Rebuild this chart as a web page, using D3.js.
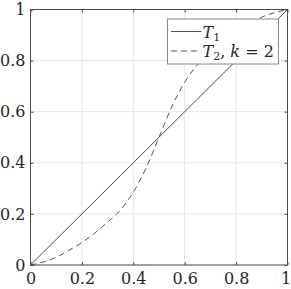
<!DOCTYPE html>
<html>
<head>
<meta charset="utf-8">
<script src="https://cdn.jsdelivr.net/npm/d3@7"></script>
<style>
  body { margin: 0; background: #fff; }
  svg text { font-family: "DejaVu Serif", serif !important; fill: #262626; }
</style>
</head>
<body>
<div id="chart"></div>
<script>
const xValues = [0, 0.05, 0.1, 0.15, 0.2, 0.25, 0.3, 0.35, 0.4, 0.45, 0.5,
  0.55, 0.6, 0.65, 0.7, 0.75, 0.8, 0.85, 0.9, 0.95, 1];
const t1Values = [0, 0.05, 0.1, 0.15, 0.2, 0.25, 0.3, 0.35, 0.4, 0.45, 0.5,
  0.55, 0.6, 0.65, 0.7, 0.75, 0.8, 0.85, 0.9, 0.95, 1];
const t2Values = [0, 0.012, 0.03, 0.058, 0.088, 0.125, 0.168, 0.215, 0.285, 0.38, 0.5,
  0.62, 0.715, 0.785, 0.832, 0.875, 0.912, 0.942, 0.97, 0.988, 1];
const tickValues = [0, 0.2, 0.4, 0.6, 0.8, 1];
const tickLabels = ['0', '0.2', '0.4', '0.6', '0.8', '1'];

const svg = d3.select('#chart').append('svg')
  .attr('width', 291)
  .attr('height', 289);

const margin = { top: 9.5, right: 3.5, bottom: 24, left: 30.5 };
const chartWidth = 291 - margin.left - margin.right;
const chartHeight = 289 - margin.top - margin.bottom;

const xScale = d3.scaleLinear().domain([0, 1]).range([0, chartWidth]);
const yScale = d3.scaleLinear().domain([0, 1]).range([chartHeight, 0]);

const chartArea = svg.append('g')
  .attr('transform', `translate(${margin.left},${margin.top})`);

// gridlines
chartArea.append('g')
  .selectAll('line.vgrid')
  .data(tickValues)
  .join('line')
  .attr('x1', d => xScale(d)).attr('x2', d => xScale(d))
  .attr('y1', 0).attr('y2', chartHeight)
  .style('stroke', '#e6e6e6').style('stroke-width', 1);
chartArea.append('g')
  .selectAll('line.hgrid')
  .data(tickValues)
  .join('line')
  .attr('y1', d => yScale(d)).attr('y2', d => yScale(d))
  .attr('x1', 0).attr('x2', chartWidth)
  .style('stroke', '#e6e6e6').style('stroke-width', 1);

// lines
const points1 = xValues.map((x, i) => ({ x, y: t1Values[i] }));
const points2 = xValues.map((x, i) => ({ x, y: t2Values[i] }));
const lineGen = d3.line()
  .x(d => xScale(d.x))
  .y(d => yScale(d.y))
  .curve(d3.curveMonotoneX);

chartArea.append('path')
  .attr('d', lineGen(points1))
  .style('fill', 'none').style('stroke', '#333').style('stroke-width', 0.9);
chartArea.append('path')
  .attr('d', lineGen(points2))
  .style('fill', 'none').style('stroke', '#444').style('stroke-width', 0.9)
  .style('stroke-dasharray', '6,4');

// axes (ticks inside, box around)
function styleAxis(g) {
  g.attr('font-family', null);
  g.select('.domain').remove();
  g.selectAll('.tick line').style('stroke', '#4d4d4d');
  g.selectAll('.tick text').style('font-size', '16px').style('fill', '#262626');
}
const bottomAxis = d3.axisBottom(xScale).tickValues(tickValues)
  .tickFormat((d, i) => tickLabels[i]).tickSizeInner(-3).tickSizeOuter(0).tickPadding(8);
const xAxisG = chartArea.append('g')
  .attr('transform', `translate(0,${chartHeight})`)
  .call(bottomAxis).call(styleAxis);
// keep the last label inside the picture
xAxisG.selectAll('.tick text').filter(d => d === 1).attr('dx', '-2');

const leftAxis = d3.axisLeft(yScale).tickValues(tickValues)
  .tickFormat((d, i) => tickLabels[i]).tickSizeInner(-3).tickSizeOuter(0).tickPadding(5);
chartArea.append('g').call(leftAxis).call(styleAxis);
chartArea.append('g')
  .call(d3.axisTop(xScale).tickValues(tickValues).tickFormat('').tickSizeInner(-3).tickSizeOuter(0))
  .call(styleAxis);
chartArea.append('g')
  .attr('transform', `translate(${chartWidth},0)`)
  .call(d3.axisRight(yScale).tickValues(tickValues).tickFormat('').tickSizeInner(-3).tickSizeOuter(0))
  .call(styleAxis);

chartArea.append('rect')
  .attr('x', 0).attr('y', 0)
  .attr('width', chartWidth).attr('height', chartHeight)
  .style('fill', 'none').style('stroke', '#4d4d4d').style('stroke-width', 1);

// legend
const legend = svg.append('g').attr('transform', 'translate(167.5,19)');
legend.append('rect')
  .attr('width', 111).attr('height', 45)
  .style('fill', '#fff').style('stroke', '#888').style('stroke-width', 1);

const legendItems = [
  { dash: null, y: 12.5 },
  { dash: '6,4', y: 32 }
];
legend.selectAll('line.key')
  .data(legendItems)
  .join('line')
  .attr('x1', 3.5).attr('x2', 34)
  .attr('y1', d => d.y).attr('y2', d => d.y)
  .style('stroke', '#444').style('stroke-width', 0.9)
  .style('stroke-dasharray', d => d.dash);

const t1Text = legend.append('text')
  .attr('x', 35).attr('y', 12.5 + 6)
  .style('font-size', '16px');
t1Text.append('tspan').style('font-style', 'italic').text('T');
t1Text.append('tspan').attr('dy', 3).style('font-size', '11px').text('1');

const t2Text = legend.append('text')
  .attr('x', 35).attr('y', 32 + 6)
  .style('font-size', '16px');
t2Text.append('tspan').style('font-style', 'italic').text('T');
t2Text.append('tspan').attr('dy', 3).style('font-size', '11px').text('2');
t2Text.append('tspan').attr('dy', -3).text(', ');
t2Text.append('tspan').style('font-style', 'italic').text('k');
t2Text.append('tspan').text(' = 2');
</script>
</body>
</html>
